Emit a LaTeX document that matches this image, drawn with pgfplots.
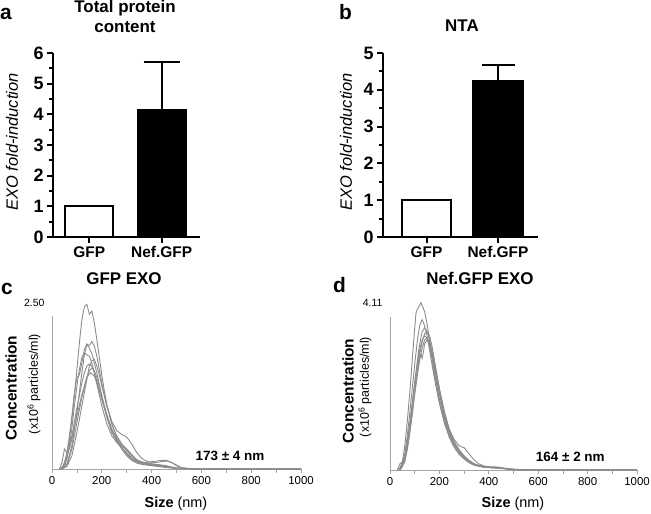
\documentclass[border=0pt]{standalone}
\usepackage{pgfplots}
\pgfplotsset{compat=1.18}
\usepackage{fontspec}
\setmainfont{Liberation Sans}
\definecolor{cg}{RGB}{140,140,140}
\definecolor{ag}{RGB}{165,165,165}
\pgfplotsset{
 barax/.style={scale only axis, axis x line=bottom, axis y line=left,
   axis line style={-, line width=2.2bp, black}, tick style={line width=2bp, black},
   tick align=outside, major tick length=6bp, minor tick length=4bp, ymin=0,
   xtick={0,1}, xticklabels={GFP,Nef.GFP}, minor y tick num=1,
   x tick label style={font=\bfseries\fontsize{15.5}{15.5}\selectfont},
   y tick label style={font=\bfseries\fontsize{18}{18}\selectfont},
   /pgf/number format/assume math mode=true, clip=false},
 ntaax/.style={scale only axis, axis x line=bottom, axis y line=left,
   axis line style={-, ag, line width=0.9bp}, y axis line style={draw=none},
   xmin=0, xmax=1000, ymin=0, xtick={0,200,...,1000}, minor xtick={100,300,...,900},
   tick align=outside, major tick length=4bp, minor tick length=4bp,
   xtick style={ag, line width=0.8bp}, ytick style={draw=none},
   x tick label style={font=\fontsize{11.5}{11.5}\selectfont},
   y tick label style={font=\fontsize{10.5}{10.5}\selectfont},
   /pgf/number format/assume math mode=true, /pgf/number format/1000 sep={}, clip=false},
 cur/.style={cg, line width=0.9bp, no marks}
}
\begin{document}
\begin{tikzpicture}[x=1bp,y=1bp]
\useasboundingbox (0,0) rectangle (651,514);
% ---------- a ----------
\begin{axis}[barax, at={(53bp,277bp)}, anchor=south west, width=147bp, height=184bp,
  xmin=-0.5, xmax=1.53, ymax=6, ytick={0,1,2,3,4,5,6}]
\addplot[ybar, bar width=48bp, bar shift=0pt, fill=white, draw=black, line width=2.2bp] coordinates {(0,1)};
\addplot[ybar, bar width=48bp, bar shift=0pt, fill=black, draw=black, line width=2.2bp,
  error bars/.cd, y dir=plus, y explicit, error bar style={line width=2.2bp, black},
  error mark options={rotate=90, mark size=18bp, line width=2.2bp, black}] coordinates {(1,4.13) +- (0,1.58)};
\end{axis}
% ---------- b ----------
\begin{axis}[barax, at={(383bp,277bp)}, anchor=south west, width=155bp, height=184bp,
  xmin=-0.61, xmax=1.56, ymax=5, ytick={0,1,2,3,4,5}]
\addplot[ybar, bar width=49bp, bar shift=0pt, fill=white, draw=black, line width=2.2bp] coordinates {(0,1)};
\addplot[ybar, bar width=49bp, bar shift=0pt, fill=black, draw=black, line width=2.2bp,
  error bars/.cd, y dir=plus, y explicit, error bar style={line width=2.2bp, black},
  error mark options={rotate=90, mark size=16.5bp, line width=2.2bp, black}] coordinates {(1,4.24) +- (0,0.43)};
\end{axis}
% ---------- c ----------
\begin{axis}[ntaax, at={(52bp,45bp)}, anchor=south west, width=249bp, height=166bp,
  ymax=2.5, ytick={2.5}, yticklabels={2.50}]
\draw[ag, line width=0.9bp] (axis cs:0,0) -- (axis cs:0,2.3);
\addplot[cur] coordinates {(30,0)(40,0.02)(50,0.06)(60,0.2)(70,0.45)(80,0.75)(90,1.1)(100,1.5)(110,1.9)(120,2.25)(130,2.44)(140,2.48)(150,2.33)(160,2.38)(170,2.2)(180,1.95)(190,1.68)(200,1.42)(210,1.18)(220,0.98)(240,0.68)(260,0.48)(280,0.36)(300,0.28)(320,0.2)(340,0.14)(360,0.11)(380,0.09)(400,0.08)(420,0.07)(440,0.06)(460,0.05)(480,0.03)(500,0.015)(540,0.005)(600,0)(1000,0)};
\addplot[cur] coordinates {(30,0)(40,0.01)(60,0.08)(80,0.35)(100,0.85)(110,1.15)(120,1.45)(130,1.72)(140,1.88)(150,1.86)(160,1.92)(170,1.85)(180,1.7)(200,1.3)(220,0.95)(240,0.68)(260,0.5)(280,0.38)(300,0.3)(320,0.2)(340,0.13)(360,0.1)(380,0.08)(400,0.07)(420,0.06)(440,0.05)(460,0.04)(480,0.025)(500,0.01)(550,0.003)(600,0)(1000,0)};
\addplot[cur] coordinates {(30,0)(40,0.02)(50,0.1)(60,0.25)(70,0.5)(80,0.8)(90,1.15)(100,1.38)(110,1.42)(120,1.6)(130,1.8)(140,1.88)(150,1.82)(160,1.74)(170,1.6)(180,1.45)(200,1.1)(220,0.78)(240,0.55)(260,0.42)(280,0.34)(300,0.3)(320,0.22)(340,0.14)(360,0.1)(380,0.08)(400,0.07)(420,0.06)(440,0.05)(460,0.035)(480,0.02)(500,0.01)(600,0)(1000,0)};
\addplot[cur] coordinates {(40,0)(50,0.05)(60,0.15)(70,0.35)(80,0.62)(90,0.95)(100,1.25)(110,1.5)(120,1.68)(130,1.75)(140,1.72)(150,1.7)(160,1.6)(170,1.45)(180,1.28)(200,0.95)(220,0.68)(240,0.5)(260,0.4)(280,0.32)(300,0.25)(320,0.17)(340,0.12)(360,0.09)(380,0.07)(400,0.06)(420,0.05)(440,0.05)(460,0.04)(480,0.02)(500,0.01)(560,0)(1000,0)};
\addplot[cur] coordinates {(40,0)(60,0.04)(80,0.2)(100,0.55)(120,0.95)(140,1.35)(150,1.55)(160,1.63)(170,1.65)(180,1.55)(190,1.42)(200,1.25)(220,0.95)(240,0.72)(260,0.58)(280,0.52)(290,0.5)(300,0.48)(320,0.38)(340,0.25)(360,0.16)(380,0.12)(400,0.1)(420,0.1)(440,0.11)(460,0.12)(480,0.1)(500,0.05)(520,0.02)(560,0.005)(600,0)(1000,0)};
\addplot[cur] coordinates {(30,0)(40,0.01)(50,0.08)(60,0.18)(80,0.5)(100,0.92)(120,1.3)(130,1.45)(140,1.55)(150,1.58)(160,1.55)(170,1.45)(180,1.32)(200,1.05)(220,0.8)(240,0.6)(260,0.45)(280,0.33)(300,0.22)(320,0.15)(340,0.1)(360,0.08)(380,0.07)(400,0.06)(420,0.05)(440,0.04)(460,0.03)(480,0.02)(500,0.01)(550,0)(1000,0)};
\addplot[cur] coordinates {(40,0)(60,0.05)(80,0.3)(100,0.7)(120,1.08)(140,1.38)(150,1.48)(160,1.52)(170,1.48)(180,1.38)(200,1.1)(220,0.82)(240,0.6)(260,0.44)(280,0.32)(300,0.22)(320,0.15)(340,0.11)(360,0.1)(380,0.1)(400,0.11)(420,0.12)(440,0.13)(460,0.13)(480,0.1)(500,0.06)(520,0.02)(560,0)(1000,0)};
\addplot[cur] coordinates {(30,0)(40,0.1)(50,0.3)(60,0.25)(70,0.3)(80,0.45)(100,0.8)(120,1.12)(140,1.38)(155,1.45)(170,1.4)(180,1.3)(200,1.05)(220,0.8)(240,0.58)(260,0.42)(280,0.3)(300,0.2)(320,0.13)(340,0.09)(360,0.07)(380,0.06)(400,0.05)(420,0.04)(440,0.03)(460,0.02)(500,0.01)(540,0)(1000,0)};
\node[font=\bfseries\fontsize{13.5}{13.5}\selectfont, anchor=base] at (axis cs:715,0.13) {173 ± 4 nm};
\end{axis}
% ---------- d ----------
\begin{axis}[ntaax, at={(390bp,44bp)}, anchor=south west, width=247bp, height=167bp,
  ymax=4.11, ytick={4.11}, yticklabels={4.11}]
\draw[ag, line width=0.9bp] (axis cs:0,0) -- (axis cs:0,3.77);
\addplot[cur] coordinates {(30,0)(40,0.05)(50,0.2)(60,0.6)(70,1.2)(80,1.9)(90,2.7)(100,3.5)(105,3.85)(110,3.95)(120,4.05)(125,4.12)(130,4.05)(140,3.9)(150,3.6)(160,3.2)(170,2.75)(180,2.3)(190,1.95)(200,1.65)(220,1.15)(240,0.8)(260,0.55)(280,0.38)(300,0.27)(320,0.18)(340,0.12)(360,0.09)(380,0.07)(400,0.06)(420,0.05)(440,0.04)(460,0.03)(480,0.02)(500,0.01)(550,0)(1000,0)};
\addplot[cur] coordinates {(30,0)(40,0.03)(50,0.15)(60,0.4)(70,0.85)(80,1.4)(90,2.0)(100,2.6)(110,3.15)(120,3.55)(130,3.7)(140,3.55)(150,3.3)(160,2.95)(170,2.6)(180,2.25)(200,1.65)(220,1.2)(240,0.85)(260,0.6)(280,0.42)(300,0.3)(320,0.2)(340,0.13)(360,0.09)(380,0.07)(400,0.06)(420,0.05)(440,0.05)(460,0.04)(480,0.02)(500,0.01)(560,0)(1000,0)};
\addplot[cur] coordinates {(40,0)(50,0.1)(60,0.3)(70,0.65)(80,1.1)(90,1.6)(100,2.15)(110,2.65)(120,3.1)(130,3.4)(140,3.5)(150,3.42)(160,3.2)(170,2.9)(180,2.55)(200,1.9)(220,1.35)(240,0.95)(260,0.68)(280,0.48)(300,0.33)(320,0.22)(340,0.15)(360,0.1)(380,0.08)(400,0.07)(420,0.06)(440,0.05)(460,0.04)(480,0.03)(500,0.015)(560,0)(1000,0)};
\addplot[cur] coordinates {(40,0)(50,0.08)(60,0.25)(70,0.55)(80,0.95)(90,1.45)(100,1.95)(110,2.45)(120,2.85)(130,3.15)(140,3.35)(150,3.4)(160,3.3)(170,3.05)(180,2.7)(200,2.0)(220,1.4)(240,1.0)(260,0.75)(280,0.6)(290,0.57)(300,0.55)(320,0.4)(340,0.25)(360,0.15)(380,0.1)(400,0.08)(420,0.08)(440,0.07)(460,0.05)(480,0.03)(500,0.02)(560,0)(1000,0)};
\addplot[cur] coordinates {(30,0)(40,0.15)(50,0.2)(60,0.35)(70,0.7)(80,1.15)(90,1.65)(100,2.15)(110,2.6)(120,2.95)(130,3.2)(140,3.3)(150,3.25)(160,3.05)(170,2.75)(180,2.4)(200,1.75)(220,1.25)(240,0.88)(260,0.62)(280,0.43)(300,0.3)(320,0.2)(340,0.13)(360,0.1)(380,0.08)(400,0.07)(420,0.06)(440,0.05)(460,0.04)(480,0.02)(500,0.01)(550,0)(1000,0)};
\addplot[cur] coordinates {(40,0)(50,0.1)(60,0.3)(70,0.65)(80,1.05)(90,1.5)(100,1.95)(110,2.4)(120,2.75)(125,2.85)(130,2.75)(135,2.9)(140,3.1)(150,3.2)(160,3.1)(170,2.85)(180,2.5)(200,1.85)(220,1.3)(240,0.92)(260,0.65)(280,0.45)(300,0.32)(320,0.22)(340,0.15)(360,0.11)(380,0.09)(400,0.08)(420,0.07)(440,0.06)(460,0.04)(480,0.03)(500,0.02)(560,0)(1000,0)};
\addplot[cur] coordinates {(40,0)(60,0.2)(70,0.5)(80,0.9)(90,1.35)(100,1.85)(110,2.3)(120,2.7)(130,3.0)(140,3.2)(150,3.25)(160,3.15)(170,2.95)(180,2.65)(200,2.0)(220,1.45)(240,1.0)(260,0.7)(280,0.5)(300,0.35)(320,0.24)(340,0.16)(360,0.11)(380,0.08)(400,0.07)(420,0.06)(440,0.05)(460,0.04)(480,0.02)(500,0.01)(560,0)(1000,0)};
\node[font=\bfseries\fontsize{13.5}{13.5}\selectfont, anchor=base] at (axis cs:730,0.2) {164 ± 2 nm};
\end{axis}
% ---------- text ----------
\node[font=\bfseries\fontsize{21}{21}\selectfont, anchor=base west, inner sep=0] at (0,494) {a};
\node[font=\bfseries\fontsize{21}{21}\selectfont, anchor=base west, inner sep=0] at (339,494) {b};
\node[font=\bfseries\fontsize{21}{21}\selectfont, anchor=base west, inner sep=0] at (1,219) {c};
\node[font=\bfseries\fontsize{21}{21}\selectfont, anchor=base west, inner sep=0] at (333,221) {d};
\node[font=\bfseries\fontsize{17}{17}\selectfont, anchor=base, inner sep=0] at (125,501) {Total protein};
\node[font=\bfseries\fontsize{17}{17}\selectfont, anchor=base, inner sep=0] at (125,481) {content};
\node[font=\bfseries\fontsize{17}{17}\selectfont, anchor=base, inner sep=0] at (462,482) {NTA};
\node[font=\bfseries\fontsize{17}{17}\selectfont, anchor=base, inner sep=0] at (124,229) {GFP EXO};
\node[font=\bfseries\fontsize{17}{17}\selectfont, anchor=base, inner sep=0] at (480,229) {Nef.GFP EXO};
\node[font=\itshape\fontsize{16.5}{16.5}\selectfont, rotate=90, inner sep=0] at (12,372) {EXO fold-induction};
\node[font=\itshape\fontsize{16.5}{16.5}\selectfont, rotate=90, inner sep=0] at (346,372) {EXO fold-induction};
\node[font=\bfseries\fontsize{15.5}{15.5}\selectfont, rotate=90, inner sep=0] at (11,126) {Concentration};
\node[font=\fontsize{12.5}{12.5}\selectfont, rotate=90, inner sep=0] at (34,130) {(x10\textsuperscript{6} particles/ml)};
\node[font=\bfseries\fontsize{15.5}{15.5}\selectfont, rotate=90, inner sep=0] at (348,123) {Concentration};
\node[font=\fontsize{12.5}{12.5}\selectfont, rotate=90, inner sep=0] at (365,127) {(x10\textsuperscript{6} particles/ml)};
\node[font=\fontsize{14.5}{14.5}\selectfont, anchor=base, inner sep=0] at (176,6) {\textbf{Size} (nm)};
\node[font=\fontsize{14.5}{14.5}\selectfont, anchor=base, inner sep=0] at (513,6) {\textbf{Size} (nm)};
\end{tikzpicture}
\end{document}
